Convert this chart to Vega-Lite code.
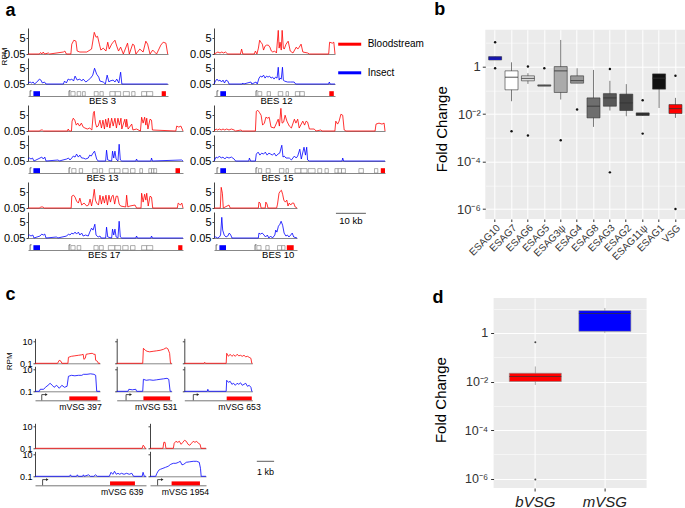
{
"$schema":"https://vega.github.io/schema/vega-lite/v6.json",
"padding":{"left":0,"top":0,"right":0,"bottom":0},
"background":"#ffffff",
"config":{"font":"Liberation Sans","view":{"stroke":null},"axis":{"labelFont":"Liberation Sans","titleFont":"Liberation Sans"},"legend":{"labelFont":"Liberation Sans"},"title":{"font":"Liberation Sans"}},
"datasets":{
"b3r":[{"x":0,"y":0.05},{"x":3.8,"y":0.05},{"x":4.2,"y":0.077},{"x":4.6,"y":0.05},{"x":5.1,"y":0.089},{"x":5.5,"y":0.05},{"x":6.8,"y":0.067},{"x":7.2,"y":0.05},{"x":11.8,"y":0.089},{"x":12.3,"y":0.119},{"x":12.8,"y":0.05},{"x":14.3,"y":0.05},{"x":14.6,"y":0.889},{"x":15.3,"y":2.81},{"x":16,"y":2.11},{"x":16.4,"y":0.119},{"x":17.3,"y":0.089},{"x":19.6,"y":0.089},{"x":21.2,"y":0.211},{"x":22.1,"y":28.1},{"x":22.7,"y":6.67},{"x":23.2,"y":8.89},{"x":23.8,"y":0.889},{"x":24.3,"y":0.158},{"x":25.1,"y":0.281},{"x":26,"y":0.119},{"x":26.6,"y":1.58},{"x":27.1,"y":0.211},{"x":27.9,"y":0.889},{"x":28.4,"y":1.58},{"x":29,"y":2.81},{"x":29.6,"y":0.5},{"x":30.2,"y":0.119},{"x":30.9,"y":0.375},{"x":31.8,"y":0.05},{"x":33.2,"y":1.19},{"x":33.8,"y":0.05},{"x":34.9,"y":0.889},{"x":35.4,"y":0.667},{"x":36,"y":0.05},{"x":37.3,"y":0.211},{"x":38.4,"y":0.089},{"x":39.3,"y":2.11},{"x":39.9,"y":0.889},{"x":40.7,"y":0.05},{"x":41.6,"y":0.158},{"x":42.9,"y":0.05},{"x":44.3,"y":0.667},{"x":45.1,"y":1.58},{"x":46,"y":1.19},{"x":46.6,"y":0.05}],
"b3b":[{"x":0,"y":0.067},{"x":0.7,"y":0.089},{"x":1.2,"y":0.067},{"x":1.7,"y":0.089},{"x":2.2,"y":0.05},{"x":3.3,"y":0.119},{"x":3.8,"y":0.211},{"x":4.3,"y":0.158},{"x":4.8,"y":0.067},{"x":5.5,"y":0.089},{"x":6,"y":0.05},{"x":11.8,"y":0.05},{"x":12.2,"y":0.119},{"x":12.8,"y":0.067},{"x":13.4,"y":0.211},{"x":14,"y":0.158},{"x":14.6,"y":0.211},{"x":15.2,"y":0.119},{"x":15.7,"y":0.5},{"x":16.4,"y":0.158},{"x":17.3,"y":0.211},{"x":17.9,"y":0.119},{"x":18.4,"y":0.211},{"x":19.3,"y":0.089},{"x":20.1,"y":0.158},{"x":20.9,"y":0.281},{"x":21.6,"y":0.667},{"x":22.2,"y":5},{"x":22.9,"y":0.889},{"x":23.6,"y":0.375},{"x":24,"y":0.119},{"x":25.1,"y":0.089},{"x":25.8,"y":0.05},{"x":26.4,"y":0.667},{"x":27,"y":0.089},{"x":27.3,"y":0.119},{"x":28.4,"y":0.158},{"x":29,"y":0.089},{"x":29.6,"y":0.211},{"x":30.3,"y":0.067},{"x":30.9,"y":1.58},{"x":31.3,"y":0.05},{"x":46.6,"y":0.05}],
"b12r":[{"x":0,"y":0.05},{"x":0.7,"y":0.067},{"x":1.3,"y":0.089},{"x":2,"y":0.067},{"x":2.6,"y":0.089},{"x":3.2,"y":0.067},{"x":3.8,"y":0.089},{"x":4.6,"y":0.05},{"x":8.8,"y":0.05},{"x":9.2,"y":0.211},{"x":9.6,"y":0.05},{"x":13.4,"y":0.05},{"x":13.8,"y":0.119},{"x":14.3,"y":0.05},{"x":14.8,"y":0.281},{"x":15.2,"y":2.81},{"x":15.6,"y":1.58},{"x":16.1,"y":0.889},{"x":16.5,"y":0.158},{"x":17,"y":0.5},{"x":17.5,"y":0.667},{"x":18.1,"y":0.667},{"x":18.6,"y":0.375},{"x":19.1,"y":0.119},{"x":19.6,"y":0.089},{"x":20.2,"y":0.119},{"x":20.8,"y":0.067},{"x":21.4,"y":50},{"x":21.7,"y":0.281},{"x":22,"y":1.58},{"x":22.4,"y":0.158},{"x":22.7,"y":50},{"x":23.1,"y":0.281},{"x":23.4,"y":0.211},{"x":24,"y":0.889},{"x":24.7,"y":2.11},{"x":25.4,"y":0.119},{"x":26.3,"y":0.067},{"x":27.4,"y":0.375},{"x":27.9,"y":0.211},{"x":28.4,"y":0.375},{"x":29,"y":0.889},{"x":29.6,"y":0.089},{"x":31.2,"y":0.067},{"x":31.8,"y":0.05},{"x":38.2,"y":0.05},{"x":38.5,"y":1.58},{"x":39.4,"y":1.19},{"x":39.9,"y":1.58},{"x":40.3,"y":0.05}],
"b12b":[{"x":0,"y":0.05},{"x":0.5,"y":0.119},{"x":1,"y":0.211},{"x":1.5,"y":0.119},{"x":2,"y":0.158},{"x":2.5,"y":0.089},{"x":3,"y":0.158},{"x":3.5,"y":0.067},{"x":4,"y":0.158},{"x":4.6,"y":0.119},{"x":5,"y":0.05},{"x":9.4,"y":0.05},{"x":9.6,"y":0.067},{"x":9.9,"y":0.05},{"x":12.3,"y":0.089},{"x":12.6,"y":0.05},{"x":14,"y":0.089},{"x":14.4,"y":0.05},{"x":15,"y":0.281},{"x":15.5,"y":0.5},{"x":16,"y":0.375},{"x":16.5,"y":0.667},{"x":17,"y":0.281},{"x":17.5,"y":0.5},{"x":18,"y":0.375},{"x":18.5,"y":0.5},{"x":19,"y":0.281},{"x":19.5,"y":0.375},{"x":20,"y":0.211},{"x":20.5,"y":0.375},{"x":21,"y":0.281},{"x":21.4,"y":6.67},{"x":21.7,"y":0.158},{"x":22,"y":0.281},{"x":22.4,"y":0.211},{"x":22.8,"y":6.67},{"x":23.1,"y":0.158},{"x":23.4,"y":0.119},{"x":24.5,"y":0.089},{"x":25.5,"y":0.089},{"x":26.7,"y":0.089},{"x":27.2,"y":0.05},{"x":38.2,"y":0.05},{"x":38.4,"y":0.089},{"x":38.7,"y":0.05},{"x":40.3,"y":0.05}],
"b13r":[{"x":0,"y":0.05},{"x":3.9,"y":0.05},{"x":4.2,"y":0.067},{"x":4.8,"y":0.067},{"x":5.2,"y":0.05},{"x":13.2,"y":0.05},{"x":13.4,"y":0.089},{"x":13.8,"y":0.05},{"x":14.5,"y":0.05},{"x":14.7,"y":0.889},{"x":15.1,"y":2.11},{"x":15.6,"y":1.19},{"x":16.1,"y":0.281},{"x":16.6,"y":0.5},{"x":17.2,"y":0.211},{"x":17.8,"y":0.5},{"x":18.4,"y":0.158},{"x":19,"y":0.119},{"x":19.8,"y":0.089},{"x":20.6,"y":0.119},{"x":21.3,"y":0.067},{"x":21.8,"y":8.89},{"x":22.1,"y":15.8},{"x":22.5,"y":0.5},{"x":22.9,"y":0.158},{"x":23.4,"y":0.211},{"x":24,"y":1.19},{"x":24.5,"y":0.119},{"x":25,"y":1.19},{"x":25.5,"y":0.089},{"x":25.9,"y":1.58},{"x":26.4,"y":0.158},{"x":26.8,"y":2.11},{"x":27.3,"y":0.119},{"x":27.9,"y":2.11},{"x":28.4,"y":0.211},{"x":29,"y":2.11},{"x":29.5,"y":0.119},{"x":30,"y":2.11},{"x":30.5,"y":0.281},{"x":31,"y":2.11},{"x":31.3,"y":0.089},{"x":32.3,"y":1.58},{"x":32.7,"y":0.158},{"x":32.9,"y":1.58},{"x":33.4,"y":0.089},{"x":34.6,"y":0.375},{"x":35,"y":0.067},{"x":36.2,"y":0.089},{"x":37.5,"y":0.05},{"x":37.9,"y":2.81},{"x":38.4,"y":0.5},{"x":38.9,"y":2.81},{"x":39.3,"y":0.281},{"x":39.6,"y":2.11},{"x":40,"y":0.089},{"x":40.7,"y":1.58},{"x":41.2,"y":1.19},{"x":41.5,"y":0.067},{"x":49.3,"y":0.05},{"x":49.6,"y":0.211},{"x":50.3,"y":0.158},{"x":51,"y":0.211},{"x":51.7,"y":0.05}],
"b13b":[{"x":0,"y":0.089},{"x":0.5,"y":0.119},{"x":1,"y":0.089},{"x":1.5,"y":0.119},{"x":2,"y":0.05},{"x":4,"y":0.119},{"x":4.6,"y":0.158},{"x":5.1,"y":0.089},{"x":5.6,"y":0.158},{"x":6,"y":0.05},{"x":10.1,"y":0.067},{"x":10.4,"y":0.05},{"x":12.9,"y":0.089},{"x":13.5,"y":0.119},{"x":14,"y":0.067},{"x":14.6,"y":0.119},{"x":15.1,"y":0.211},{"x":15.7,"y":0.158},{"x":16.2,"y":0.375},{"x":16.8,"y":0.158},{"x":17.3,"y":0.281},{"x":17.9,"y":0.119},{"x":18.4,"y":0.119},{"x":19.2,"y":0.089},{"x":20.1,"y":0.119},{"x":20.6,"y":0.281},{"x":21.1,"y":0.211},{"x":21.7,"y":0.5},{"x":22.2,"y":0.889},{"x":22.9,"y":0.089},{"x":23.4,"y":0.05},{"x":25.9,"y":0.05},{"x":26.2,"y":1.19},{"x":26.6,"y":0.067},{"x":27.9,"y":0.05},{"x":28.2,"y":0.889},{"x":28.6,"y":0.119},{"x":29,"y":0.889},{"x":29.4,"y":0.089},{"x":30,"y":0.05},{"x":30.4,"y":6.67},{"x":30.8,"y":0.067},{"x":31.3,"y":0.05},{"x":36,"y":0.05},{"x":36.2,"y":0.089},{"x":36.5,"y":0.05},{"x":41,"y":0.05},{"x":41.2,"y":0.119},{"x":41.5,"y":0.05},{"x":51.2,"y":0.067},{"x":51.7,"y":0.05}],
"b15r":[{"x":0,"y":0.05},{"x":0.7,"y":0.089},{"x":1.2,"y":0.067},{"x":1.8,"y":0.089},{"x":2.4,"y":0.067},{"x":3,"y":0.089},{"x":3.6,"y":0.067},{"x":4.2,"y":0.089},{"x":5,"y":0.067},{"x":5.8,"y":0.089},{"x":6.7,"y":0.067},{"x":7.2,"y":0.05},{"x":9,"y":0.067},{"x":9.4,"y":0.05},{"x":13.8,"y":0.05},{"x":14.1,"y":15.8},{"x":14.6,"y":21.1},{"x":15.1,"y":11.9},{"x":15.7,"y":5},{"x":16.2,"y":0.281},{"x":16.8,"y":0.5},{"x":17.3,"y":2.81},{"x":17.9,"y":2.11},{"x":18.4,"y":2.81},{"x":19,"y":0.158},{"x":20.1,"y":0.119},{"x":21.4,"y":1.58},{"x":21.8,"y":0.211},{"x":22.3,"y":37.5},{"x":22.7,"y":0.5},{"x":23.2,"y":0.667},{"x":23.7,"y":5},{"x":24.3,"y":0.889},{"x":25.1,"y":0.211},{"x":25.8,"y":0.119},{"x":26.8,"y":1.58},{"x":27.3,"y":0.5},{"x":27.9,"y":1.58},{"x":28.4,"y":0.119},{"x":29.6,"y":0.889},{"x":30.2,"y":0.281},{"x":30.7,"y":0.889},{"x":31.2,"y":0.667},{"x":31.8,"y":0.089},{"x":33.4,"y":0.089},{"x":34,"y":0.05},{"x":35.6,"y":0.067},{"x":36,"y":0.05},{"x":40.3,"y":0.05},{"x":40.6,"y":0.889},{"x":41.2,"y":0.375},{"x":41.7,"y":0.889},{"x":42.3,"y":6.67},{"x":42.9,"y":5},{"x":43.4,"y":0.067},{"x":44,"y":0.05},{"x":53.7,"y":0.05},{"x":54,"y":0.375},{"x":55,"y":0.5},{"x":56,"y":0.375},{"x":56.7,"y":0.5},{"x":57,"y":0.05}],
"b15b":[{"x":0,"y":0.05},{"x":0.7,"y":0.158},{"x":1.2,"y":0.119},{"x":1.8,"y":0.211},{"x":2.4,"y":0.119},{"x":3,"y":0.158},{"x":3.6,"y":0.089},{"x":4.2,"y":0.158},{"x":5,"y":0.119},{"x":5.8,"y":0.158},{"x":6.7,"y":0.089},{"x":7.2,"y":0.05},{"x":11.6,"y":0.05},{"x":11.8,"y":0.119},{"x":12.2,"y":0.05},{"x":13.8,"y":0.05},{"x":14.1,"y":0.375},{"x":14.7,"y":0.667},{"x":15.3,"y":0.281},{"x":15.9,"y":0.5},{"x":16.5,"y":0.375},{"x":17.1,"y":0.667},{"x":17.7,"y":0.281},{"x":18.3,"y":0.5},{"x":18.9,"y":0.375},{"x":19.5,"y":0.281},{"x":20.1,"y":0.5},{"x":20.7,"y":0.211},{"x":21.3,"y":0.375},{"x":21.9,"y":0.5},{"x":22.6,"y":5},{"x":23,"y":0.158},{"x":23.4,"y":0.211},{"x":24,"y":0.119},{"x":25.1,"y":0.119},{"x":25.8,"y":0.067},{"x":26.8,"y":0.211},{"x":27.4,"y":0.119},{"x":27.9,"y":0.211},{"x":28.6,"y":1.58},{"x":29.1,"y":0.089},{"x":30,"y":2.81},{"x":30.5,"y":0.281},{"x":30.9,"y":2.81},{"x":31.2,"y":0.067},{"x":31.8,"y":0.05},{"x":42.7,"y":0.05},{"x":42.9,"y":0.119},{"x":43.2,"y":0.05},{"x":57,"y":0.05}],
"b17r":[{"x":0,"y":0.05},{"x":3.9,"y":0.05},{"x":4.2,"y":0.067},{"x":5,"y":0.067},{"x":5.4,"y":0.05},{"x":14.4,"y":0.05},{"x":14.6,"y":1.58},{"x":15.2,"y":2.11},{"x":15.7,"y":1.19},{"x":16.2,"y":0.375},{"x":16.8,"y":0.211},{"x":17.3,"y":0.889},{"x":17.9,"y":0.119},{"x":18.7,"y":0.211},{"x":19.6,"y":0.089},{"x":20.2,"y":0.119},{"x":20.7,"y":0.667},{"x":21.2,"y":0.089},{"x":21.7,"y":0.889},{"x":22.1,"y":11.9},{"x":22.5,"y":0.5},{"x":22.9,"y":0.211},{"x":23.5,"y":0.119},{"x":24,"y":2.11},{"x":24.5,"y":0.158},{"x":25,"y":1.58},{"x":25.5,"y":0.211},{"x":26,"y":2.11},{"x":26.5,"y":0.119},{"x":27,"y":2.11},{"x":27.5,"y":0.281},{"x":28,"y":1.58},{"x":28.4,"y":2.11},{"x":28.9,"y":0.158},{"x":29.4,"y":1.58},{"x":29.9,"y":1.58},{"x":30.4,"y":0.158},{"x":30.9,"y":0.089},{"x":32.6,"y":0.067},{"x":32.9,"y":2.11},{"x":33.3,"y":0.067},{"x":34,"y":0.089},{"x":35.7,"y":0.119},{"x":36.2,"y":0.05},{"x":37.7,"y":0.05},{"x":37.9,"y":3.75},{"x":38.4,"y":0.281},{"x":38.9,"y":2.81},{"x":39.3,"y":0.5},{"x":39.6,"y":3.75},{"x":40.1,"y":0.089},{"x":40.7,"y":1.58},{"x":41.2,"y":1.19},{"x":41.6,"y":0.05},{"x":49.8,"y":0.05},{"x":50.1,"y":0.211},{"x":50.8,"y":0.119},{"x":51.3,"y":0.211},{"x":51.7,"y":0.05}],
"b17b":[{"x":0,"y":0.089},{"x":0.5,"y":0.119},{"x":1,"y":0.089},{"x":1.6,"y":0.119},{"x":2,"y":0.05},{"x":4,"y":0.089},{"x":4.6,"y":0.158},{"x":5.1,"y":0.119},{"x":5.6,"y":0.158},{"x":6,"y":0.05},{"x":9.6,"y":0.067},{"x":9.9,"y":0.05},{"x":12.9,"y":0.089},{"x":13.5,"y":0.158},{"x":14,"y":0.119},{"x":14.6,"y":0.211},{"x":15.1,"y":0.158},{"x":15.7,"y":0.281},{"x":16.2,"y":0.158},{"x":16.8,"y":0.281},{"x":17.3,"y":0.119},{"x":17.9,"y":0.211},{"x":18.4,"y":0.089},{"x":19.2,"y":0.119},{"x":20.1,"y":0.089},{"x":20.6,"y":0.281},{"x":21.2,"y":0.889},{"x":21.7,"y":0.5},{"x":22.3,"y":2.81},{"x":22.7,"y":0.119},{"x":23.4,"y":0.067},{"x":24,"y":0.089},{"x":24.4,"y":0.05},{"x":25.9,"y":0.05},{"x":26.2,"y":1.19},{"x":26.6,"y":0.067},{"x":27.9,"y":0.05},{"x":28.2,"y":0.667},{"x":28.6,"y":0.119},{"x":29,"y":0.667},{"x":29.4,"y":0.067},{"x":30,"y":0.05},{"x":30.4,"y":6.67},{"x":30.8,"y":0.067},{"x":31.3,"y":0.05},{"x":36,"y":0.05},{"x":36.2,"y":0.089},{"x":36.5,"y":0.05},{"x":41,"y":0.05},{"x":41.2,"y":0.089},{"x":41.5,"y":0.05},{"x":51.7,"y":0.05}],
"b10r":[{"x":0,"y":0.05},{"x":2.1,"y":0.05},{"x":2.4,"y":21.1},{"x":2.8,"y":3.75},{"x":3.1,"y":0.05},{"x":5,"y":0.119},{"x":5.4,"y":0.05},{"x":14.8,"y":0.05},{"x":15,"y":0.281},{"x":15.4,"y":0.211},{"x":15.7,"y":0.05},{"x":17.1,"y":0.05},{"x":17.3,"y":0.281},{"x":17.7,"y":0.158},{"x":18,"y":0.05},{"x":20.9,"y":0.05},{"x":21.2,"y":0.158},{"x":21.7,"y":3.75},{"x":22.1,"y":6.67},{"x":22.5,"y":8.89},{"x":22.9,"y":2.81},{"x":23.3,"y":0.5},{"x":23.8,"y":0.281},{"x":24.3,"y":0.5},{"x":24.7,"y":0.089},{"x":25.1,"y":0.211},{"x":25.6,"y":0.119},{"x":26.1,"y":0.211},{"x":26.6,"y":0.211},{"x":27.1,"y":0.067},{"x":27.7,"y":0.05}],
"b10b":[{"x":0,"y":0.067},{"x":0.6,"y":0.067},{"x":1.2,"y":0.05},{"x":1.8,"y":0.067},{"x":2.2,"y":0.119},{"x":2.6,"y":21.1},{"x":2.9,"y":0.5},{"x":3.4,"y":0.119},{"x":4,"y":0.067},{"x":4.6,"y":0.089},{"x":5.1,"y":0.211},{"x":5.6,"y":0.119},{"x":6,"y":0.05},{"x":14.8,"y":0.05},{"x":15,"y":0.211},{"x":15.5,"y":0.158},{"x":16.1,"y":0.211},{"x":16.7,"y":0.119},{"x":17.2,"y":0.067},{"x":17.8,"y":0.119},{"x":18.3,"y":0.05},{"x":18.9,"y":0.089},{"x":19.5,"y":0.05},{"x":20.3,"y":0.119},{"x":20.6,"y":0.5},{"x":21,"y":0.281},{"x":21.5,"y":1.58},{"x":22,"y":2.81},{"x":22.4,"y":6.67},{"x":22.9,"y":2.11},{"x":23.4,"y":0.211},{"x":24,"y":0.089},{"x":24.5,"y":0.119},{"x":25,"y":0.067},{"x":25.6,"y":0.119},{"x":26.1,"y":0.211},{"x":26.6,"y":0.067},{"x":27.7,"y":0.05}],
"c1r":[{"x":0,"y":0.1},{"x":1.3,"y":0.1},{"x":1.4,"y":0.189},{"x":1.5,"y":0.153},{"x":1.55,"y":0.1},{"x":1.9,"y":0.1},{"x":1.93,"y":0.356},{"x":2.1,"y":0.44},{"x":2.3,"y":0.49},{"x":2.5,"y":0.544},{"x":2.7,"y":0.606},{"x":2.78,"y":0.673},{"x":2.82,"y":0.233},{"x":2.9,"y":0.288},{"x":2.95,"y":0.673},{"x":3.1,"y":0.75},{"x":3.3,"y":0.832},{"x":3.4,"y":0.673},{"x":3.47,"y":0.673},{"x":3.5,"y":0.189},{"x":3.6,"y":0.153},{"x":3.66,"y":0.1},{"x":3.75,"y":0.1}],
"c1b":[{"x":0,"y":0.1},{"x":0.25,"y":0.1},{"x":0.3,"y":0.153},{"x":0.5,"y":0.153},{"x":0.6,"y":0.233},{"x":0.75,"y":0.356},{"x":0.87,"y":0.544},{"x":1,"y":0.356},{"x":1.1,"y":0.233},{"x":1.25,"y":0.356},{"x":1.4,"y":0.189},{"x":1.55,"y":0.356},{"x":1.7,"y":0.233},{"x":1.85,"y":0.288},{"x":1.93,"y":2.4},{"x":2.1,"y":2.96},{"x":2.3,"y":2.67},{"x":2.5,"y":2.96},{"x":2.7,"y":2.96},{"x":2.8,"y":3.66},{"x":3,"y":3.66},{"x":3.2,"y":4.07},{"x":3.4,"y":3.66},{"x":3.5,"y":2.96},{"x":3.56,"y":0.1},{"x":3.75,"y":0.1}],
"c2r":[{"x":0,"y":0.1},{"x":1.5,"y":0.1},{"x":1.54,"y":2.4},{"x":1.65,"y":1.57},{"x":1.75,"y":1.27},{"x":1.9,"y":1.14},{"x":2.1,"y":1.27},{"x":2.3,"y":1.41},{"x":2.5,"y":1.57},{"x":2.7,"y":1.94},{"x":2.85,"y":2.67},{"x":2.95,"y":2.16},{"x":3.05,"y":0.832},{"x":3.1,"y":0.1},{"x":3.17,"y":0.1}],
"c2b":[{"x":0,"y":0.1},{"x":0.65,"y":0.1},{"x":0.7,"y":0.153},{"x":0.9,"y":0.137},{"x":1.1,"y":0.153},{"x":1.15,"y":0.1},{"x":1.5,"y":0.1},{"x":1.54,"y":1.27},{"x":1.7,"y":1.03},{"x":1.9,"y":1.14},{"x":2.1,"y":1.03},{"x":2.3,"y":1.14},{"x":2.5,"y":1.27},{"x":2.7,"y":1.41},{"x":2.9,"y":1.57},{"x":3,"y":1.27},{"x":3.08,"y":0.1},{"x":3.17,"y":0.1}],
"c3r":[{"x":0,"y":0.1},{"x":1.15,"y":0.1},{"x":1.18,"y":0.124},{"x":1.22,"y":0.1},{"x":2.42,"y":0.1},{"x":2.45,"y":0.832},{"x":2.55,"y":0.44},{"x":2.65,"y":0.673},{"x":2.75,"y":0.44},{"x":2.85,"y":0.606},{"x":2.95,"y":0.44},{"x":3.05,"y":0.673},{"x":3.15,"y":0.49},{"x":3.25,"y":0.544},{"x":3.35,"y":0.44},{"x":3.45,"y":0.544},{"x":3.55,"y":0.396},{"x":3.65,"y":0.44},{"x":3.75,"y":0.356},{"x":3.85,"y":0.288},{"x":3.9,"y":0.1},{"x":3.93,"y":0.1}],
"c3b":[{"x":0,"y":0.1},{"x":1.33,"y":0.1},{"x":1.36,"y":0.153},{"x":1.4,"y":0.1},{"x":2.42,"y":0.1},{"x":2.45,"y":1.03},{"x":2.55,"y":0.673},{"x":2.65,"y":0.832},{"x":2.75,"y":0.44},{"x":2.85,"y":0.544},{"x":2.95,"y":0.356},{"x":3.05,"y":0.544},{"x":3.15,"y":0.44},{"x":3.25,"y":0.606},{"x":3.35,"y":0.356},{"x":3.45,"y":0.44},{"x":3.55,"y":0.544},{"x":3.65,"y":0.288},{"x":3.75,"y":0.356},{"x":3.85,"y":0.233},{"x":3.9,"y":0.1},{"x":3.93,"y":0.1}],
"c4r":[{"x":0,"y":0.1},{"x":6.2,"y":0.1},{"x":6.25,"y":0.189},{"x":6.32,"y":0.153},{"x":6.36,"y":0.1},{"x":6.42,"y":0.1}],
"c4b":[{"x":0,"y":0.1},{"x":2,"y":0.1},{"x":2.05,"y":0.137},{"x":2.1,"y":0.1},{"x":2.4,"y":0.1},{"x":2.45,"y":0.137},{"x":2.5,"y":0.1},{"x":2.75,"y":0.1},{"x":2.8,"y":0.137},{"x":2.85,"y":0.1},{"x":3.1,"y":0.137},{"x":3.2,"y":0.1},{"x":3.4,"y":0.1},{"x":3.5,"y":0.137},{"x":3.6,"y":0.1},{"x":4.3,"y":0.1},{"x":4.4,"y":0.233},{"x":4.5,"y":0.153},{"x":4.6,"y":0.288},{"x":4.7,"y":0.153},{"x":4.8,"y":0.189},{"x":4.9,"y":0.153},{"x":5,"y":0.189},{"x":5.15,"y":0.153},{"x":5.3,"y":0.189},{"x":5.45,"y":0.153},{"x":5.6,"y":0.189},{"x":5.7,"y":0.1},{"x":6.2,"y":0.1},{"x":6.25,"y":0.233},{"x":6.32,"y":0.1},{"x":6.42,"y":0.1}],
"c5r":[{"x":0,"y":0.1},{"x":0.75,"y":0.1},{"x":0.8,"y":0.356},{"x":0.87,"y":0.356},{"x":0.92,"y":0.1},{"x":1.35,"y":0.1},{"x":1.4,"y":0.288},{"x":1.5,"y":0.44},{"x":1.6,"y":0.356},{"x":1.7,"y":0.44},{"x":1.8,"y":0.233},{"x":1.9,"y":0.356},{"x":2,"y":0.544},{"x":2.1,"y":0.44},{"x":2.2,"y":0.233},{"x":2.3,"y":0.189},{"x":2.4,"y":0.288},{"x":2.5,"y":0.44},{"x":2.6,"y":0.356},{"x":2.7,"y":0.44},{"x":2.8,"y":0.288},{"x":2.9,"y":0.233},{"x":2.95,"y":0.1},{"x":3.24,"y":0.1}],
"c5b":[{"x":0,"y":0.1},{"x":0.33,"y":0.1},{"x":0.4,"y":0.189},{"x":0.5,"y":0.356},{"x":0.6,"y":0.44},{"x":0.75,"y":0.544},{"x":0.9,"y":0.673},{"x":1.05,"y":0.832},{"x":1.2,"y":1.27},{"x":1.35,"y":1.57},{"x":1.5,"y":1.57},{"x":1.65,"y":1.94},{"x":1.75,"y":2.4},{"x":1.85,"y":1.14},{"x":1.95,"y":1.27},{"x":2.1,"y":1.94},{"x":2.3,"y":2.16},{"x":2.5,"y":2.4},{"x":2.7,"y":2.4},{"x":2.85,"y":1.94},{"x":2.92,"y":0.544},{"x":2.96,"y":0.1},{"x":3.24,"y":0.1}],
"box":[{"gene":"ESAG10","lo":1.9,"q1":1.9,"med":2.3,"q3":2.63,"hi":2.63},{"gene":"ESAG7","lo":0.0347,"q1":0.105,"med":0.355,"q3":0.66,"hi":1.51},{"gene":"ESAG6","lo":0.186,"q1":0.251,"med":0.316,"q3":0.407,"hi":0.525},{"gene":"ESAG5","lo":0.151,"q1":0.151,"med":0.158,"q3":0.17,"hi":0.17},{"gene":"ESAG3ψ","lo":0.041,"q1":0.081,"med":0.66,"q3":1.0,"hi":13.2},{"gene":"ESAG4","lo":0.2,"q1":0.2,"med":0.257,"q3":0.407,"hi":0.85},{"gene":"ESAG8","lo":0.00288,"q1":0.0069,"med":0.0214,"q3":0.0479,"hi":0.72},{"gene":"ESAG3","lo":0.0141,"q1":0.0214,"med":0.0479,"q3":0.0724,"hi":0.251},{"gene":"ESAG2","lo":0.0081,"q1":0.0141,"med":0.0295,"q3":0.069,"hi":0.182},{"gene":"ESAG11ψ","lo":0.0087,"q1":0.0087,"med":0.01,"q3":0.0112,"hi":0.0112},{"gene":"ESAG1","lo":0.018,"q1":0.112,"med":0.324,"q3":0.49,"hi":0.49},{"gene":"VSG","lo":0.0069,"q1":0.0105,"med":0.017,"q3":0.0251,"hi":0.0479}],
"outl":[{"gene":"ESAG10","v":10.5},{"gene":"ESAG10","v":0.85},{"gene":"ESAG7","v":0.0019},{"gene":"ESAG6","v":1.0},{"gene":"ESAG6","v":0.00126},{"gene":"ESAG5","v":0.85},{"gene":"ESAG3ψ","v":0.00079},{"gene":"ESAG4","v":0.0155},{"gene":"ESAG3","v":0.79},{"gene":"ESAG3","v":0.000035},{"gene":"ESAG11ψ","v":0.038},{"gene":"ESAG11ψ","v":0.0015},{"gene":"VSG","v":0.407},{"gene":"VSG","v":0.000001}],
"boxd":[{"g":"bVSG","lo":0.0072,"q1":0.01,"med":0.0162,"q3":0.0219,"hi":0.0417},{"g":"mVSG","lo":1.0,"q1":1.17,"med":6.3,"q3":8.3,"hi":10.7}],
"outd":[{"g":"bVSG","v":0.41},{"g":"bVSG","v":0.00000091}]
},
"spacing":23,
"resolve":{"scale":{"fill":"independent"}},
"vconcat":[
{"spacing":46.3,"hconcat":[
 {"spacing":4,"hconcat":[
  {"spacing":-2,"vconcat":[
   {"bounds":"flush","spacing":4,"vconcat":[
    {"width":140,"height":26,
     "data":{"name":"b3r"},"mark":{"type":"line","strokeWidth":0.8},
     "encoding":{"x":{"field":"x","type":"quantitative","scale":{"domain":[0,46.7],"nice":false,"zero":false},"axis":{"domainColor":"#888888","ticks":false,"labels":false,"grid":false,"title":"a","titleX":-23,"titleY":-39,"titleAngle":0,"titleAlign":"left","titleBaseline":"alphabetic","titleFontSize":18,"titleFontWeight":"bold","titleColor":"#000000"}},
      "y":{"field":"y","type":"quantitative","scale":{"type":"log","domain":[0.05,100],"nice":false},"axis":{"values":[0.05,5],"labelExpr":"datum.value < 1 ? '0.05' : '5'","grid":false,"tickSize":2,"tickColor":"#444444","domainColor":"#444444","labelFontSize":11,"labelPadding":1,"labelColor":"#000000","title":"RPM","titleFontSize":8,"titleFontWeight":"normal","titleColor":"#000000","titleX":-20,"titleY":28}},
      "color":{"datum":"Bloodstream","type":"nominal","scale":{"domain":["Bloodstream","Insect"],"range":["#ff0000","#0000ff"]}}}},
    {"width":140,"height":26,"data":{"name":"b3b"},"mark":{"type":"line","strokeWidth":0.8},
     "encoding":{"x":{"field":"x","type":"quantitative","scale":{"domain":[0,46.7],"nice":false,"zero":false},"axis":{"domainColor":"#888888","ticks":false,"labels":false,"grid":false,"title":null}},
      "y":{"field":"y","type":"quantitative","scale":{"type":"log","domain":[0.05,100],"nice":false},"axis":{"values":[0.05,5],"labelExpr":"datum.value < 1 ? '0.05' : '5'","grid":false,"title":null,"tickSize":2,"tickColor":"#444444","domainColor":"#444444","labelFontSize":11,"labelPadding":1,"labelColor":"#000000"}},
      "color":{"datum":"Insect","type":"nominal","scale":{"domain":["Bloodstream","Insect"],"range":["#ff0000","#0000ff"]}}}},
    {"width":140,"height":8,"data":{"values":[{"t":"p","s":0.7,"e":1.2},{"t":"b","s":1.8,"e":4.0},{"t":"p","s":13.7,"e":14.2},{"t":"e","s":14.3,"e":15.7},{"t":"e","s":16.4,"e":17.6},{"t":"e","s":18.2,"e":19.1},{"t":"e","s":22.1,"e":23.4},{"t":"e","s":24,"e":25.1},{"t":"e","s":27.3,"e":29.1},{"t":"e","s":29.1,"e":30.9},{"t":"e","s":31.8,"e":33.8},{"t":"e","s":34.6,"e":35.7},{"t":"e","s":37.9,"e":39.6},{"t":"e","s":39.6,"e":41.6},{"t":"r","s":44.6,"e":46}]},
     "encoding":{"x":{"field":"s","type":"quantitative","scale":{"domain":[0,46.7],"nice":false,"zero":false},"axis":{"domainColor":"#888888","ticks":false,"labels":false,"grid":false,"title":"BES 3","titleX":74,"titleY":4,"titleFontSize":9.5,"titleFontWeight":"normal","titleColor":"#000000","titleBaseline":"middle"}}},
     "layer":[
      {"transform":[{"filter":"datum.t=='e'"}],"mark":{"type":"rect","fill":"#ffffff","stroke":"#777777","strokeWidth":0.6},"encoding":{"x2":{"field":"e"},"y":{"datum":0,"type":"quantitative","scale":{"domain":[0,1]},"axis":null},"y2":{"datum":0.55}}},
      {"transform":[{"filter":"datum.t=='b'"}],"mark":{"type":"rect","fill":"#0000ff"},"encoding":{"x2":{"field":"e"},"y":{"datum":0,"type":"quantitative"},"y2":{"datum":0.6}}},
      {"transform":[{"filter":"datum.t=='r'"}],"mark":{"type":"rect","fill":"#ff0000"},"encoding":{"x2":{"field":"e"},"y":{"datum":0,"type":"quantitative"},"y2":{"datum":0.6}}},
      {"transform":[{"filter":"datum.t=='p'"}],"mark":{"type":"rule","color":"#333333","strokeWidth":0.7},"encoding":{"y":{"datum":0,"type":"quantitative"},"y2":{"datum":0.65}}},
      {"transform":[{"filter":"datum.t=='p'"}],"mark":{"type":"rule","color":"#333333","strokeWidth":0.7},"encoding":{"x2":{"field":"e"},"y":{"datum":0.65,"type":"quantitative"}}}
     ]}
   ]},
   {"bounds":"flush","spacing":4,"vconcat":[
    {"width":155,"height":26,"data":{"name":"b13r"},"mark":{"type":"line","strokeWidth":0.8},
     "encoding":{"x":{"field":"x","type":"quantitative","scale":{"domain":[0,51.7],"nice":false,"zero":false},"axis":{"domainColor":"#888888","ticks":false,"labels":false,"grid":false,"title":null}},
      "y":{"field":"y","type":"quantitative","scale":{"type":"log","domain":[0.05,100],"nice":false},"axis":{"values":[0.05,5],"labelExpr":"datum.value < 1 ? '0.05' : '5'","grid":false,"title":null,"tickSize":2,"tickColor":"#444444","domainColor":"#444444","labelFontSize":11,"labelPadding":1,"labelColor":"#000000"}},
      "color":{"datum":"Bloodstream","type":"nominal","scale":{"domain":["Bloodstream","Insect"],"range":["#ff0000","#0000ff"]}}}},
    {"width":155,"height":26,"data":{"name":"b13b"},"mark":{"type":"line","strokeWidth":0.8},
     "encoding":{"x":{"field":"x","type":"quantitative","scale":{"domain":[0,51.7],"nice":false,"zero":false},"axis":{"domainColor":"#888888","ticks":false,"labels":false,"grid":false,"title":null}},
      "y":{"field":"y","type":"quantitative","scale":{"type":"log","domain":[0.05,100],"nice":false},"axis":{"values":[0.05,5],"labelExpr":"datum.value < 1 ? '0.05' : '5'","grid":false,"title":null,"tickSize":2,"tickColor":"#444444","domainColor":"#444444","labelFontSize":11,"labelPadding":1,"labelColor":"#000000"}},
      "color":{"datum":"Insect","type":"nominal","scale":{"domain":["Bloodstream","Insect"],"range":["#ff0000","#0000ff"]}}}},
    {"width":155,"height":8,"data":{"values":[{"t":"p","s":0.7,"e":1.2},{"t":"b","s":1.8,"e":4.0},{"t":"p","s":13.7,"e":14.2},{"t":"e","s":14.6,"e":16.0},{"t":"e","s":17.1,"e":18.2},{"t":"e","s":21.6,"e":23.1},{"t":"e","s":23.8,"e":24.9},{"t":"e","s":27.1,"e":28.9},{"t":"e","s":28.9,"e":30.7},{"t":"e","s":31.6,"e":33.4},{"t":"e","s":34.2,"e":35.7},{"t":"e","s":37.3,"e":38.2},{"t":"e","s":40.3,"e":41.2},{"t":"e","s":41.2,"e":42.0},{"t":"e","s":42.0,"e":42.9},{"t":"r","s":49.2,"e":50.7}]},
     "encoding":{"x":{"field":"s","type":"quantitative","scale":{"domain":[0,51.7],"nice":false,"zero":false},"axis":{"domainColor":"#888888","ticks":false,"labels":false,"grid":false,"title":"BES 13","titleX":74,"titleY":4,"titleFontSize":9.5,"titleFontWeight":"normal","titleColor":"#000000","titleBaseline":"middle"}}},
     "layer":[
      {"transform":[{"filter":"datum.t=='e'"}],"mark":{"type":"rect","fill":"#ffffff","stroke":"#777777","strokeWidth":0.6},"encoding":{"x2":{"field":"e"},"y":{"datum":0,"type":"quantitative","scale":{"domain":[0,1]},"axis":null},"y2":{"datum":0.55}}},
      {"transform":[{"filter":"datum.t=='b'"}],"mark":{"type":"rect","fill":"#0000ff"},"encoding":{"x2":{"field":"e"},"y":{"datum":0,"type":"quantitative"},"y2":{"datum":0.6}}},
      {"transform":[{"filter":"datum.t=='r'"}],"mark":{"type":"rect","fill":"#ff0000"},"encoding":{"x2":{"field":"e"},"y":{"datum":0,"type":"quantitative"},"y2":{"datum":0.6}}},
      {"transform":[{"filter":"datum.t=='p'"}],"mark":{"type":"rule","color":"#333333","strokeWidth":0.7},"encoding":{"y":{"datum":0,"type":"quantitative"},"y2":{"datum":0.65}}},
      {"transform":[{"filter":"datum.t=='p'"}],"mark":{"type":"rule","color":"#333333","strokeWidth":0.7},"encoding":{"x2":{"field":"e"},"y":{"datum":0.65,"type":"quantitative"}}}
     ]}
   ]},
   {"bounds":"flush","spacing":4,"vconcat":[
    {"width":155,"height":26,"data":{"name":"b17r"},"mark":{"type":"line","strokeWidth":0.8},
     "encoding":{"x":{"field":"x","type":"quantitative","scale":{"domain":[0,51.7],"nice":false,"zero":false},"axis":{"domainColor":"#888888","ticks":false,"labels":false,"grid":false,"title":null}},
      "y":{"field":"y","type":"quantitative","scale":{"type":"log","domain":[0.05,100],"nice":false},"axis":{"values":[0.05,5],"labelExpr":"datum.value < 1 ? '0.05' : '5'","grid":false,"title":null,"tickSize":2,"tickColor":"#444444","domainColor":"#444444","labelFontSize":11,"labelPadding":1,"labelColor":"#000000"}},
      "color":{"datum":"Bloodstream","type":"nominal","scale":{"domain":["Bloodstream","Insect"],"range":["#ff0000","#0000ff"]}}}},
    {"width":155,"height":26,"data":{"name":"b17b"},"mark":{"type":"line","strokeWidth":0.8},
     "encoding":{"x":{"field":"x","type":"quantitative","scale":{"domain":[0,51.7],"nice":false,"zero":false},"axis":{"domainColor":"#888888","ticks":false,"labels":false,"grid":false,"title":null}},
      "y":{"field":"y","type":"quantitative","scale":{"type":"log","domain":[0.05,100],"nice":false},"axis":{"values":[0.05,5],"labelExpr":"datum.value < 1 ? '0.05' : '5'","grid":false,"title":null,"tickSize":2,"tickColor":"#444444","domainColor":"#444444","labelFontSize":11,"labelPadding":1,"labelColor":"#000000"}},
      "color":{"datum":"Insect","type":"nominal","scale":{"domain":["Bloodstream","Insect"],"range":["#ff0000","#0000ff"]}}}},
    {"width":155,"height":8,"data":{"values":[{"t":"p","s":0.7,"e":1.2},{"t":"b","s":1.8,"e":4.0},{"t":"p","s":13.7,"e":14.2},{"t":"e","s":14.3,"e":15.7},{"t":"e","s":16.4,"e":17.6},{"t":"e","s":22,"e":23.4},{"t":"e","s":23.8,"e":25.1},{"t":"e","s":26.8,"e":29},{"t":"e","s":29,"e":30.9},{"t":"e","s":31.6,"e":33.4},{"t":"e","s":34.2,"e":35.7},{"t":"e","s":37.9,"e":39.6},{"t":"e","s":39.6,"e":41.6},{"t":"r","s":50.1,"e":51.5}]},
     "encoding":{"x":{"field":"s","type":"quantitative","scale":{"domain":[0,51.7],"nice":false,"zero":false},"axis":{"domainColor":"#888888","ticks":false,"labels":false,"grid":false,"title":"BES 17","titleX":75.7,"titleY":4,"titleFontSize":9.5,"titleFontWeight":"normal","titleColor":"#000000","titleBaseline":"middle"}}},
     "layer":[
      {"transform":[{"filter":"datum.t=='e'"}],"mark":{"type":"rect","fill":"#ffffff","stroke":"#777777","strokeWidth":0.6},"encoding":{"x2":{"field":"e"},"y":{"datum":0,"type":"quantitative","scale":{"domain":[0,1]},"axis":null},"y2":{"datum":0.55}}},
      {"transform":[{"filter":"datum.t=='b'"}],"mark":{"type":"rect","fill":"#0000ff"},"encoding":{"x2":{"field":"e"},"y":{"datum":0,"type":"quantitative"},"y2":{"datum":0.6}}},
      {"transform":[{"filter":"datum.t=='r'"}],"mark":{"type":"rect","fill":"#ff0000"},"encoding":{"x2":{"field":"e"},"y":{"datum":0,"type":"quantitative"},"y2":{"datum":0.6}}},
      {"transform":[{"filter":"datum.t=='p'"}],"mark":{"type":"rule","color":"#333333","strokeWidth":0.7},"encoding":{"y":{"datum":0,"type":"quantitative"},"y2":{"datum":0.65}}},
      {"transform":[{"filter":"datum.t=='p'"}],"mark":{"type":"rule","color":"#333333","strokeWidth":0.7},"encoding":{"x2":{"field":"e"},"y":{"datum":0.65,"type":"quantitative"}}}
     ]}
   ]}
  ]},
  {"spacing":-2,"vconcat":[
   {"bounds":"flush","spacing":4,"vconcat":[
    {"width":121,"height":26,"data":{"name":"b12r"},"mark":{"type":"line","strokeWidth":0.8},
     "encoding":{"x":{"field":"x","type":"quantitative","scale":{"domain":[0,40.3],"nice":false,"zero":false},"axis":{"domainColor":"#888888","ticks":false,"labels":false,"grid":false,"title":null}},
      "y":{"field":"y","type":"quantitative","scale":{"type":"log","domain":[0.05,100],"nice":false},"axis":{"values":[0.05,5],"labelExpr":"datum.value < 1 ? '0.05' : '5'","grid":false,"title":null,"tickSize":2,"tickColor":"#444444","domainColor":"#444444","labelFontSize":11,"labelPadding":1,"labelColor":"#000000"}},
      "color":{"datum":"Bloodstream","type":"nominal","scale":{"domain":["Bloodstream","Insect"],"range":["#ff0000","#0000ff"]},"legend":{"orient":"none","legendX":308.7,"legendY":3.2,"title":null,"symbolType":"stroke","symbolSize":529,"symbolStrokeWidth":3,"labelFontSize":10,"labelColor":"#000000","rowPadding":9.6,"labelOffset":5,"padding":0}}}},
    {"width":121,"height":26,"data":{"name":"b12b"},"mark":{"type":"line","strokeWidth":0.8},
     "encoding":{"x":{"field":"x","type":"quantitative","scale":{"domain":[0,40.3],"nice":false,"zero":false},"axis":{"domainColor":"#888888","ticks":false,"labels":false,"grid":false,"title":null}},
      "y":{"field":"y","type":"quantitative","scale":{"type":"log","domain":[0.05,100],"nice":false},"axis":{"values":[0.05,5],"labelExpr":"datum.value < 1 ? '0.05' : '5'","grid":false,"title":null,"tickSize":2,"tickColor":"#444444","domainColor":"#444444","labelFontSize":11,"labelPadding":1,"labelColor":"#000000"}},
      "color":{"datum":"Insect","type":"nominal","scale":{"domain":["Bloodstream","Insect"],"range":["#ff0000","#0000ff"]}}}},
    {"width":121,"height":8,"data":{"values":[{"t":"p","s":1.0,"e":1.5},{"t":"b","s":2.1,"e":4.0},{"t":"p","s":14.0,"e":14.5},{"t":"e","s":14.6,"e":15.9},{"t":"e","s":17.7,"e":18.8},{"t":"e","s":21.4,"e":22.9},{"t":"e","s":24,"e":24.8},{"t":"e","s":27.1,"e":28.6},{"t":"e","s":28.6,"e":30.1},{"t":"r","s":38.4,"e":39.9}]},
     "encoding":{"x":{"field":"s","type":"quantitative","scale":{"domain":[0,40.3],"nice":false,"zero":false},"axis":{"domainColor":"#888888","ticks":false,"labels":false,"grid":false,"title":"BES 12","titleX":62,"titleY":4,"titleFontSize":9.5,"titleFontWeight":"normal","titleColor":"#000000","titleBaseline":"middle"}}},
     "layer":[
      {"transform":[{"filter":"datum.t=='e'"}],"mark":{"type":"rect","fill":"#ffffff","stroke":"#777777","strokeWidth":0.6},"encoding":{"x2":{"field":"e"},"y":{"datum":0,"type":"quantitative","scale":{"domain":[0,1]},"axis":null},"y2":{"datum":0.55}}},
      {"transform":[{"filter":"datum.t=='b'"}],"mark":{"type":"rect","fill":"#0000ff"},"encoding":{"x2":{"field":"e"},"y":{"datum":0,"type":"quantitative"},"y2":{"datum":0.6}}},
      {"transform":[{"filter":"datum.t=='r'"}],"mark":{"type":"rect","fill":"#ff0000"},"encoding":{"x2":{"field":"e"},"y":{"datum":0,"type":"quantitative"},"y2":{"datum":0.6}}},
      {"transform":[{"filter":"datum.t=='p'"}],"mark":{"type":"rule","color":"#333333","strokeWidth":0.7},"encoding":{"y":{"datum":0,"type":"quantitative"},"y2":{"datum":0.65}}},
      {"transform":[{"filter":"datum.t=='p'"}],"mark":{"type":"rule","color":"#333333","strokeWidth":0.7},"encoding":{"x2":{"field":"e"},"y":{"datum":0.65,"type":"quantitative"}}}
     ]}
   ]},
   {"bounds":"flush","spacing":4,"vconcat":[
    {"width":171,"height":26,"data":{"name":"b15r"},"mark":{"type":"line","strokeWidth":0.8},
     "encoding":{"x":{"field":"x","type":"quantitative","scale":{"domain":[0,57],"nice":false,"zero":false},"axis":{"domainColor":"#888888","ticks":false,"labels":false,"grid":false,"title":null}},
      "y":{"field":"y","type":"quantitative","scale":{"type":"log","domain":[0.05,100],"nice":false},"axis":{"values":[0.05,5],"labelExpr":"datum.value < 1 ? '0.05' : '5'","grid":false,"title":null,"tickSize":2,"tickColor":"#444444","domainColor":"#444444","labelFontSize":11,"labelPadding":1,"labelColor":"#000000"}},
      "color":{"datum":"Bloodstream","type":"nominal","scale":{"domain":["Bloodstream","Insect"],"range":["#ff0000","#0000ff"]}}}},
    {"width":171,"height":26,"data":{"name":"b15b"},"mark":{"type":"line","strokeWidth":0.8},
     "encoding":{"x":{"field":"x","type":"quantitative","scale":{"domain":[0,57],"nice":false,"zero":false},"axis":{"domainColor":"#888888","ticks":false,"labels":false,"grid":false,"title":null}},
      "y":{"field":"y","type":"quantitative","scale":{"type":"log","domain":[0.05,100],"nice":false},"axis":{"values":[0.05,5],"labelExpr":"datum.value < 1 ? '0.05' : '5'","grid":false,"title":null,"tickSize":2,"tickColor":"#444444","domainColor":"#444444","labelFontSize":11,"labelPadding":1,"labelColor":"#000000"}},
      "color":{"datum":"Insect","type":"nominal","scale":{"domain":["Bloodstream","Insect"],"range":["#ff0000","#0000ff"]}}}},
    {"width":171,"height":8,"data":{"values":[{"t":"p","s":1.0,"e":1.5},{"t":"b","s":2.1,"e":4.0},{"t":"p","s":14.0,"e":14.5},{"t":"e","s":14.8,"e":15.9},{"t":"e","s":17.4,"e":18.7},{"t":"e","s":21.8,"e":23.3},{"t":"e","s":24,"e":24.8},{"t":"e","s":27,"e":29},{"t":"e","s":29,"e":31},{"t":"e","s":31.4,"e":33.7},{"t":"e","s":34.6,"e":35.9},{"t":"e","s":37,"e":38.1},{"t":"e","s":40.3,"e":41.4},{"t":"e","s":41.4,"e":42.5},{"t":"e","s":42.5,"e":43.8},{"t":"e","s":48.3,"e":49.8},{"t":"e","s":53.5,"e":54.6},{"t":"r","s":55.6,"e":57}]},
     "encoding":{"x":{"field":"s","type":"quantitative","scale":{"domain":[0,57],"nice":false,"zero":false},"axis":{"domainColor":"#888888","ticks":false,"labels":false,"grid":false,"title":"BES 15","titleX":63,"titleY":4,"titleFontSize":9.5,"titleFontWeight":"normal","titleColor":"#000000","titleBaseline":"middle"}}},
     "layer":[
      {"transform":[{"filter":"datum.t=='e'"}],"mark":{"type":"rect","fill":"#ffffff","stroke":"#777777","strokeWidth":0.6},"encoding":{"x2":{"field":"e"},"y":{"datum":0,"type":"quantitative","scale":{"domain":[0,1]},"axis":null},"y2":{"datum":0.55}}},
      {"transform":[{"filter":"datum.t=='b'"}],"mark":{"type":"rect","fill":"#0000ff"},"encoding":{"x2":{"field":"e"},"y":{"datum":0,"type":"quantitative"},"y2":{"datum":0.6}}},
      {"transform":[{"filter":"datum.t=='r'"}],"mark":{"type":"rect","fill":"#ff0000"},"encoding":{"x2":{"field":"e"},"y":{"datum":0,"type":"quantitative"},"y2":{"datum":0.6}}},
      {"transform":[{"filter":"datum.t=='p'"}],"mark":{"type":"rule","color":"#333333","strokeWidth":0.7},"encoding":{"y":{"datum":0,"type":"quantitative"},"y2":{"datum":0.65}}},
      {"transform":[{"filter":"datum.t=='p'"}],"mark":{"type":"rule","color":"#333333","strokeWidth":0.7},"encoding":{"x2":{"field":"e"},"y":{"datum":0.65,"type":"quantitative"}}}
     ]}
   ]},
   {"bounds":"flush","spacing":4,"vconcat":[
    {"width":83,"height":26,"data":{"name":"b10r"},"mark":{"type":"line","strokeWidth":0.8},
     "encoding":{"x":{"field":"x","type":"quantitative","scale":{"domain":[0,27.7],"nice":false,"zero":false},"axis":{"domainColor":"#888888","ticks":false,"labels":false,"grid":false,"title":null}},
      "y":{"field":"y","type":"quantitative","scale":{"type":"log","domain":[0.05,100],"nice":false},"axis":{"values":[0.05,5],"labelExpr":"datum.value < 1 ? '0.05' : '5'","grid":false,"title":null,"tickSize":2,"tickColor":"#444444","domainColor":"#444444","labelFontSize":11,"labelPadding":1,"labelColor":"#000000"}},
      "color":{"datum":"Bloodstream","type":"nominal","scale":{"domain":["Bloodstream","Insect"],"range":["#ff0000","#0000ff"]}}}},
    {"width":83,"height":26,
     "layer":[
      {"data":{"name":"b10b"},"mark":{"type":"line","strokeWidth":0.8},
       "encoding":{"x":{"field":"x","type":"quantitative","scale":{"domain":[0,27.7],"nice":false,"zero":false},"axis":{"domainColor":"#888888","ticks":false,"labels":false,"grid":false,"title":null}},
        "y":{"field":"y","type":"quantitative","scale":{"type":"log","domain":[0.05,100],"nice":false},"axis":{"values":[0.05,5],"labelExpr":"datum.value < 1 ? '0.05' : '5'","grid":false,"title":null,"tickSize":2,"tickColor":"#444444","domainColor":"#444444","labelFontSize":11,"labelPadding":1,"labelColor":"#000000"}},
        "color":{"datum":"Insect","type":"nominal","scale":{"domain":["Bloodstream","Insect"],"range":["#ff0000","#0000ff"]}}}},
      {"data":{"values":[{"a":40.7,"b":50.7,"v":68}]},"mark":{"type":"rule","color":"#333333","strokeWidth":0.8},
       "encoding":{"x":{"field":"a","type":"quantitative","scale":{"domain":[0,27.7],"nice":false,"zero":false}},"x2":{"field":"b"},"y":{"field":"v","type":"quantitative"}}},
      {"data":{"values":[{"a":45.7,"v":8.3,"t":"10 kb"}]},"mark":{"type":"text","fontSize":9.5,"baseline":"middle","align":"center","color":"#000000"},
       "encoding":{"x":{"field":"a","type":"quantitative"},"y":{"field":"v","type":"quantitative"},"text":{"field":"t"}}}
     ]},
    {"width":83,"height":8,"data":{"values":[{"t":"p","s":0.7,"e":1.2},{"t":"b","s":1.8,"e":4.0},{"t":"p","s":13.7,"e":14.2},{"t":"e","s":14.3,"e":15.7},{"t":"e","s":17.3,"e":18.4},{"t":"e","s":21.2,"e":22.6},{"t":"e","s":22.6,"e":23.7},{"t":"r","s":24.3,"e":26.6}]},
     "encoding":{"x":{"field":"s","type":"quantitative","scale":{"domain":[0,27.7],"nice":false,"zero":false},"axis":{"domainColor":"#888888","ticks":false,"labels":false,"grid":false,"title":"BES 10","titleX":63.7,"titleY":4,"titleFontSize":9.5,"titleFontWeight":"normal","titleColor":"#000000","titleBaseline":"middle"}}},
     "layer":[
      {"transform":[{"filter":"datum.t=='e'"}],"mark":{"type":"rect","fill":"#ffffff","stroke":"#777777","strokeWidth":0.6},"encoding":{"x2":{"field":"e"},"y":{"datum":0,"type":"quantitative","scale":{"domain":[0,1]},"axis":null},"y2":{"datum":0.55}}},
      {"transform":[{"filter":"datum.t=='b'"}],"mark":{"type":"rect","fill":"#0000ff"},"encoding":{"x2":{"field":"e"},"y":{"datum":0,"type":"quantitative"},"y2":{"datum":0.6}}},
      {"transform":[{"filter":"datum.t=='r'"}],"mark":{"type":"rect","fill":"#ff0000"},"encoding":{"x2":{"field":"e"},"y":{"datum":0,"type":"quantitative"},"y2":{"datum":0.6}}},
      {"transform":[{"filter":"datum.t=='p'"}],"mark":{"type":"rule","color":"#333333","strokeWidth":0.7},"encoding":{"y":{"datum":0,"type":"quantitative"},"y2":{"datum":0.65}}},
      {"transform":[{"filter":"datum.t=='p'"}],"mark":{"type":"rule","color":"#333333","strokeWidth":0.7},"encoding":{"x2":{"field":"e"},"y":{"datum":0.65,"type":"quantitative"}}}
     ]}
   ]}
  ]}
 ]},
 {"spacing":-28.3,"vconcat":[
  {"width":1,"height":1,"data":{"values":[]},"mark":{"type":"point","opacity":0},"encoding":{}},
  {"width":200,"height":189.3,
   "view":{"fill":"#ebebeb","stroke":null},
   "resolve":{"axis":{"y":"independent"}},
   "layer":[
    {"data":{"name":"box"},"mark":{"type":"rule","color":"#444444","strokeWidth":0.7},
     "encoding":{"x":{"field":"gene","type":"nominal","scale":{"domain":["ESAG10","ESAG7","ESAG6","ESAG5","ESAG3ψ","ESAG4","ESAG8","ESAG3","ESAG2","ESAG11ψ","ESAG1","VSG"],"paddingInner":0,"paddingOuter":0.1},"axis":{"title":null,"labelAngle":-45,"labelFontSize":10,"labelColor":"#333333","labelPadding":1,"ticks":true,"tickSize":2.5,"tickColor":"#333333","domain":false,"grid":true,"gridColor":"#ffffff","gridWidth":1,"bandPosition":0.5}},
      "y":{"field":"lo","type":"quantitative","scale":{"type":"log","domain":[3.8e-7,35.7],"nice":false},"axis":{"orient":"left","values":[1,0.01,0.0001,0.000001],"labelExpr":"datum.value > 0.5 ? '1' : datum.value > 0.001 ? '10⁻²' : datum.value > 0.00001 ? '10⁻⁴' : '10⁻⁶'","grid":true,"gridColor":"#ffffff","gridWidth":1,"domain":false,"ticks":true,"tickSize":3,"tickColor":"#333333","labelFontSize":13,"labelColor":"#333333","labelPadding":2,"title":"Fold Change","titleFontSize":15,"titleFontWeight":"normal","titleColor":"#000000","titleX":-36.3,"titleY":99}},
      "y2":{"field":"hi"}}},
    {"data":{"name":"box"},"mark":{"type":"bar","size":13,"stroke":"#333333","strokeWidth":0.6},
     "encoding":{"x":{"field":"gene","type":"nominal"},
      "y":{"field":"q1","type":"quantitative","axis":{"orient":"left","values":[10,0.1,0.001,0.00001],"grid":true,"gridColor":"#ffffff","gridWidth":0.5,"labels":false,"ticks":false,"domain":false,"title":"b","titleX":-51.6,"titleY":-15,"titleAngle":0,"titleAlign":"left","titleBaseline":"alphabetic","titleFontSize":18,"titleFontWeight":"bold","titleColor":"#000000"}},
      "y2":{"field":"q3"},
      "fill":{"field":"gene","type":"nominal","scale":{"domain":["ESAG10","ESAG7","ESAG6","ESAG5","ESAG3ψ","ESAG4","ESAG8","ESAG3","ESAG2","ESAG11ψ","ESAG1","VSG"],"range":["#0000ff","#ffffff","#e3e3e3","#cccccc","#aaaaaa","#999999","#6e6e6e","#595959","#444444","#2e2e2e","#111111","#ff0000"]},"legend":null}}},
    {"data":{"name":"box"},"mark":{"type":"tick","size":13,"thickness":1.2,"color":"#333333"},
     "encoding":{"x":{"field":"gene","type":"nominal"},"y":{"field":"med","type":"quantitative","axis":null}}},
    {"data":{"name":"outl"},"mark":{"type":"point","filled":true,"size":6,"color":"#111111","opacity":1},
     "encoding":{"x":{"field":"gene","type":"nominal"},"y":{"field":"v","type":"quantitative","axis":null}}}
   ]}
 ]}
]},
{"spacing":156.6,"hconcat":[
 {"spacing":-24,"hconcat":[
  {"width":1,"height":1,"data":{"values":[]},"mark":{"type":"point","opacity":0},"encoding":{}},
  {"spacing":-13.7,"vconcat":[
   {"width":1,"height":1,"data":{"values":[]},"mark":{"type":"point","opacity":0},"encoding":{}},
   {"spacing":11,"vconcat":[
    {"spacing":11.7,"hconcat":[
     {"bounds":"flush","spacing":3,"vconcat":[
      {"width":65,"height":25,
       "data":{"name":"c1r"},"mark":{"type":"line","strokeWidth":0.8},
       "encoding":{"x":{"field":"x","type":"quantitative","scale":{"domain":[0,3.75],"nice":false,"zero":false},"axis":{"domainColor":"#888888","ticks":false,"labels":false,"grid":false,"title":"c","titleX":-30,"titleY":-63.7,"titleAngle":0,"titleAlign":"left","titleBaseline":"alphabetic","titleFontSize":18,"titleFontWeight":"bold","titleColor":"#000000"}},
        "y":{"field":"y","type":"quantitative","scale":{"type":"log","domain":[0.1,20],"nice":false},"axis":{"values":[0.1,10],"labelExpr":"datum.value < 1 ? '0.1' : '10'","grid":false,"tickSize":2,"tickColor":"#444444","domainColor":"#444444","labelFontSize":9,"labelPadding":1,"labelColor":"#000000","title":"RPM","titleFontSize":8,"titleFontWeight":"normal","titleColor":"#000000","titleX":-22,"titleY":22.5}},
        "color":{"datum":"Bloodstream","type":"nominal","scale":{"domain":["Bloodstream","Insect"],"range":["#ff0000","#0000ff"]}}}},
      {"width":65,"height":25,"data":{"name":"c1b"},"mark":{"type":"line","strokeWidth":0.8},
       "encoding":{"x":{"field":"x","type":"quantitative","scale":{"domain":[0,3.75],"nice":false,"zero":false},"axis":{"domainColor":"#888888","ticks":false,"labels":false,"grid":false,"title":null}},
        "y":{"field":"y","type":"quantitative","scale":{"type":"log","domain":[0.1,20],"nice":false},"axis":{"values":[0.1,10],"labelExpr":"datum.value < 1 ? '0.1' : '10'","grid":false,"title":null,"tickSize":2,"tickColor":"#444444","domainColor":"#444444","labelFontSize":9,"labelPadding":1,"labelColor":"#000000"}},
        "color":{"datum":"Insect","type":"nominal","scale":{"domain":["Bloodstream","Insect"],"range":["#ff0000","#0000ff"]}}}},
      {"width":65,"height":6,"data":{"values":[{"t":"p","s":0.39,"e":0.66},{"t":"r","s":1.98,"e":3.6}]},
       "encoding":{"x":{"field":"s","type":"quantitative","scale":{"domain":[0,3.75],"nice":false,"zero":false},"axis":{"domainColor":"#777777","ticks":false,"labels":false,"grid":false,"title":"mVSG 397","titleX":45,"titleFontSize":8.7,"titleFontWeight":"normal","titleColor":"#000000","titlePadding":2,"titleBaseline":"top"}}},
       "layer":[
        {"transform":[{"filter":"datum.t=='r'"}],"mark":{"type":"rect","fill":"#ff0000"},"encoding":{"x2":{"field":"e"},"y":{"datum":0,"type":"quantitative","scale":{"domain":[0,1]},"axis":null},"y2":{"datum":0.65}}},
        {"transform":[{"filter":"datum.t=='p'"}],"mark":{"type":"rule","color":"#222222","strokeWidth":0.8},"encoding":{"y":{"datum":0,"type":"quantitative"},"y2":{"datum":0.95}}},
        {"transform":[{"filter":"datum.t=='p'"}],"mark":{"type":"rule","color":"#222222","strokeWidth":0.8},"encoding":{"x2":{"field":"e"},"y":{"datum":0.95,"type":"quantitative"}}},
        {"transform":[{"filter":"datum.t=='p'"}],"mark":{"type":"point","shape":"triangle-right","filled":true,"size":8,"color":"#222222","opacity":1},"encoding":{"x":{"field":"e","type":"quantitative"},"y":{"datum":0.95,"type":"quantitative"}}}
       ]}
     ]},
     {"spacing":3.6,"hconcat":[
      {"bounds":"flush","spacing":3,"vconcat":[
       {"width":55,"height":25,"data":{"name":"c2r"},"mark":{"type":"line","strokeWidth":0.8},
        "encoding":{"x":{"field":"x","type":"quantitative","scale":{"domain":[0,3.17],"nice":false,"zero":false},"axis":{"domainColor":"#888888","ticks":false,"labels":false,"grid":false,"title":null}},
         "y":{"field":"y","type":"quantitative","scale":{"type":"log","domain":[0.1,20],"nice":false},"axis":{"values":[0.1,10],"labels":false,"grid":false,"title":null,"tickSize":2,"tickColor":"#444444","domainColor":"#444444"}},
         "color":{"datum":"Bloodstream","type":"nominal","scale":{"domain":["Bloodstream","Insect"],"range":["#ff0000","#0000ff"]}}}},
       {"width":55,"height":25,"data":{"name":"c2b"},"mark":{"type":"line","strokeWidth":0.8},
        "encoding":{"x":{"field":"x","type":"quantitative","scale":{"domain":[0,3.17],"nice":false,"zero":false},"axis":{"domainColor":"#888888","ticks":false,"labels":false,"grid":false,"title":null}},
         "y":{"field":"y","type":"quantitative","scale":{"type":"log","domain":[0.1,20],"nice":false},"axis":{"values":[0.1,10],"labels":false,"grid":false,"title":null,"tickSize":2,"tickColor":"#444444","domainColor":"#444444"}},
         "color":{"datum":"Insect","type":"nominal","scale":{"domain":["Bloodstream","Insect"],"range":["#ff0000","#0000ff"]}}}},
       {"width":55,"height":6,"data":{"values":[{"t":"p","s":0.54,"e":0.81},{"t":"r","s":1.54,"e":3.08}]},
        "encoding":{"x":{"field":"s","type":"quantitative","scale":{"domain":[0,3.17],"nice":false,"zero":false},"axis":{"domainColor":"#777777","ticks":false,"labels":false,"grid":false,"title":"mVSG 531","titleX":39,"titleFontSize":8.7,"titleFontWeight":"normal","titleColor":"#000000","titlePadding":2,"titleBaseline":"top"}}},
        "layer":[
         {"transform":[{"filter":"datum.t=='r'"}],"mark":{"type":"rect","fill":"#ff0000"},"encoding":{"x2":{"field":"e"},"y":{"datum":0,"type":"quantitative","scale":{"domain":[0,1]},"axis":null},"y2":{"datum":0.65}}},
         {"transform":[{"filter":"datum.t=='p'"}],"mark":{"type":"rule","color":"#222222","strokeWidth":0.8},"encoding":{"y":{"datum":0,"type":"quantitative"},"y2":{"datum":0.95}}},
         {"transform":[{"filter":"datum.t=='p'"}],"mark":{"type":"rule","color":"#222222","strokeWidth":0.8},"encoding":{"x2":{"field":"e"},"y":{"datum":0.95,"type":"quantitative"}}},
         {"transform":[{"filter":"datum.t=='p'"}],"mark":{"type":"point","shape":"triangle-right","filled":true,"size":8,"color":"#222222","opacity":1},"encoding":{"x":{"field":"e","type":"quantitative"},"y":{"datum":0.95,"type":"quantitative"}}}
        ]}
      ]},
      {"bounds":"flush","spacing":3,"vconcat":[
       {"width":68,"height":25,"data":{"name":"c3r"},"mark":{"type":"line","strokeWidth":0.8},
        "encoding":{"x":{"field":"x","type":"quantitative","scale":{"domain":[0,3.93],"nice":false,"zero":false},"axis":{"domainColor":"#888888","ticks":false,"labels":false,"grid":false,"title":null}},
         "y":{"field":"y","type":"quantitative","scale":{"type":"log","domain":[0.1,20],"nice":false},"axis":{"values":[0.1,10],"labels":false,"grid":false,"title":null,"tickSize":2,"tickColor":"#444444","domainColor":"#444444"}},
         "color":{"datum":"Bloodstream","type":"nominal","scale":{"domain":["Bloodstream","Insect"],"range":["#ff0000","#0000ff"]}}}},
       {"width":68,"height":25,"data":{"name":"c3b"},"mark":{"type":"line","strokeWidth":0.8},
        "encoding":{"x":{"field":"x","type":"quantitative","scale":{"domain":[0,3.93],"nice":false,"zero":false},"axis":{"domainColor":"#888888","ticks":false,"labels":false,"grid":false,"title":null}},
         "y":{"field":"y","type":"quantitative","scale":{"type":"log","domain":[0.1,20],"nice":false},"axis":{"values":[0.1,10],"labels":false,"grid":false,"title":null,"tickSize":2,"tickColor":"#444444","domainColor":"#444444"}},
         "color":{"datum":"Insect","type":"nominal","scale":{"domain":["Bloodstream","Insect"],"range":["#ff0000","#0000ff"]}}}},
       {"width":68,"height":6,"data":{"values":[{"t":"p","s":0.52,"e":0.79},{"t":"r","s":2.45,"e":3.9}]},
        "encoding":{"x":{"field":"s","type":"quantitative","scale":{"domain":[0,3.93],"nice":false,"zero":false},"axis":{"domainColor":"#777777","ticks":false,"labels":false,"grid":false,"title":"mVSG 653","titleX":54.7,"titleFontSize":8.7,"titleFontWeight":"normal","titleColor":"#000000","titlePadding":2,"titleBaseline":"top"}}},
        "layer":[
         {"transform":[{"filter":"datum.t=='r'"}],"mark":{"type":"rect","fill":"#ff0000"},"encoding":{"x2":{"field":"e"},"y":{"datum":0,"type":"quantitative","scale":{"domain":[0,1]},"axis":null},"y2":{"datum":0.65}}},
         {"transform":[{"filter":"datum.t=='p'"}],"mark":{"type":"rule","color":"#222222","strokeWidth":0.8},"encoding":{"y":{"datum":0,"type":"quantitative"},"y2":{"datum":0.95}}},
         {"transform":[{"filter":"datum.t=='p'"}],"mark":{"type":"rule","color":"#222222","strokeWidth":0.8},"encoding":{"x2":{"field":"e"},"y":{"datum":0.95,"type":"quantitative"}}},
         {"transform":[{"filter":"datum.t=='p'"}],"mark":{"type":"point","shape":"triangle-right","filled":true,"size":8,"color":"#222222","opacity":1},"encoding":{"x":{"field":"e","type":"quantitative"},"y":{"datum":0.95,"type":"quantitative"}}}
        ]}
      ]}
     ]}
    ]},
    {"spacing":-1,"hconcat":[
     {"bounds":"flush","spacing":3,"vconcat":[
      {"width":111,"height":25,"data":{"name":"c4r"},"mark":{"type":"line","strokeWidth":0.8},
       "encoding":{"x":{"field":"x","type":"quantitative","scale":{"domain":[0,6.42],"nice":false,"zero":false},"axis":{"domainColor":"#888888","ticks":false,"labels":false,"grid":false,"title":null}},
        "y":{"field":"y","type":"quantitative","scale":{"type":"log","domain":[0.1,20],"nice":false},"axis":{"values":[0.1,10],"labelExpr":"datum.value < 1 ? '0.1' : '10'","grid":false,"title":null,"tickSize":2,"tickColor":"#444444","domainColor":"#444444","labelFontSize":9,"labelPadding":1,"labelColor":"#000000"}},
        "color":{"datum":"Bloodstream","type":"nominal","scale":{"domain":["Bloodstream","Insect"],"range":["#ff0000","#0000ff"]}}}},
      {"width":111,"height":25,"data":{"name":"c4b"},"mark":{"type":"line","strokeWidth":0.8},
       "encoding":{"x":{"field":"x","type":"quantitative","scale":{"domain":[0,6.42],"nice":false,"zero":false},"axis":{"domainColor":"#888888","ticks":false,"labels":false,"grid":false,"title":null}},
        "y":{"field":"y","type":"quantitative","scale":{"type":"log","domain":[0.1,20],"nice":false},"axis":{"values":[0.1,10],"labelExpr":"datum.value < 1 ? '0.1' : '10'","grid":false,"title":null,"tickSize":2,"tickColor":"#444444","domainColor":"#444444","labelFontSize":9,"labelPadding":1,"labelColor":"#000000"}},
        "color":{"datum":"Insect","type":"nominal","scale":{"domain":["Bloodstream","Insect"],"range":["#ff0000","#0000ff"]}}}},
      {"width":111,"height":6,"data":{"values":[{"t":"p","s":0.44,"e":0.71},{"t":"r","s":4.34,"e":5.78}]},
       "encoding":{"x":{"field":"s","type":"quantitative","scale":{"domain":[0,6.42],"nice":false,"zero":false},"axis":{"domainColor":"#777777","ticks":false,"labels":false,"grid":false,"title":"mVSG 639","titleX":86.7,"titleFontSize":8.7,"titleFontWeight":"normal","titleColor":"#000000","titlePadding":2,"titleBaseline":"top"}}},
       "layer":[
        {"transform":[{"filter":"datum.t=='r'"}],"mark":{"type":"rect","fill":"#ff0000"},"encoding":{"x2":{"field":"e"},"y":{"datum":0,"type":"quantitative","scale":{"domain":[0,1]},"axis":null},"y2":{"datum":0.65}}},
        {"transform":[{"filter":"datum.t=='p'"}],"mark":{"type":"rule","color":"#222222","strokeWidth":0.8},"encoding":{"y":{"datum":0,"type":"quantitative"},"y2":{"datum":0.95}}},
        {"transform":[{"filter":"datum.t=='p'"}],"mark":{"type":"rule","color":"#222222","strokeWidth":0.8},"encoding":{"x2":{"field":"e"},"y":{"datum":0.95,"type":"quantitative"}}},
        {"transform":[{"filter":"datum.t=='p'"}],"mark":{"type":"point","shape":"triangle-right","filled":true,"size":8,"color":"#222222","opacity":1},"encoding":{"x":{"field":"e","type":"quantitative"},"y":{"datum":0.95,"type":"quantitative"}}}
       ]}
     ]},
     {"bounds":"flush","spacing":3,"vconcat":[
      {"width":56,"height":25,"data":{"name":"c5r"},"mark":{"type":"line","strokeWidth":0.8},
       "encoding":{"x":{"field":"x","type":"quantitative","scale":{"domain":[0,3.24],"nice":false,"zero":false},"axis":{"domainColor":"#888888","ticks":false,"labels":false,"grid":false,"title":null}},
        "y":{"field":"y","type":"quantitative","scale":{"type":"log","domain":[0.1,20],"nice":false},"axis":{"values":[0.1,10],"labels":false,"grid":false,"title":null,"tickSize":2,"tickColor":"#444444","domainColor":"#444444"}},
        "color":{"datum":"Bloodstream","type":"nominal","scale":{"domain":["Bloodstream","Insect"],"range":["#ff0000","#0000ff"]}}}},
      {"width":56,"height":25,
       "layer":[
        {"data":{"name":"c5b"},"mark":{"type":"line","strokeWidth":0.8},
         "encoding":{"x":{"field":"x","type":"quantitative","scale":{"domain":[0,3.24],"nice":false,"zero":false},"axis":{"domainColor":"#888888","ticks":false,"labels":false,"grid":false,"title":null}},
          "y":{"field":"y","type":"quantitative","scale":{"type":"log","domain":[0.1,20],"nice":false},"axis":{"values":[0.1,10],"labels":false,"grid":false,"title":null,"tickSize":2,"tickColor":"#444444","domainColor":"#444444"}},
          "color":{"datum":"Insect","type":"nominal","scale":{"domain":["Bloodstream","Insect"],"range":["#ff0000","#0000ff"]}}}},
        {"data":{"values":[{"a":6.18,"b":7.18,"v":2.4}]},"mark":{"type":"rule","color":"#333333","strokeWidth":0.8},
         "encoding":{"x":{"field":"a","type":"quantitative","scale":{"domain":[0,3.24],"nice":false,"zero":false}},"x2":{"field":"b"},"y":{"field":"v","type":"quantitative"}}},
        {"data":{"values":[{"a":6.68,"v":0.25,"t":"1 kb"}]},"mark":{"type":"text","fontSize":9,"baseline":"middle","align":"center","color":"#000000"},
         "encoding":{"x":{"field":"a","type":"quantitative"},"y":{"field":"v","type":"quantitative"},"text":{"field":"t"}}}
       ]},
      {"width":56,"height":6,"data":{"values":[{"t":"p","s":0.44,"e":0.71},{"t":"r","s":1.25,"e":2.89}]},
       "encoding":{"x":{"field":"s","type":"quantitative","scale":{"domain":[0,3.24],"nice":false,"zero":false},"axis":{"domainColor":"#777777","ticks":false,"labels":false,"grid":false,"title":"mVSG 1954","titleX":35,"titleFontSize":8.7,"titleFontWeight":"normal","titleColor":"#000000","titlePadding":2,"titleBaseline":"top"}}},
       "layer":[
        {"transform":[{"filter":"datum.t=='r'"}],"mark":{"type":"rect","fill":"#ff0000"},"encoding":{"x2":{"field":"e"},"y":{"datum":0,"type":"quantitative","scale":{"domain":[0,1]},"axis":null},"y2":{"datum":0.65}}},
        {"transform":[{"filter":"datum.t=='p'"}],"mark":{"type":"rule","color":"#222222","strokeWidth":0.8},"encoding":{"y":{"datum":0,"type":"quantitative"},"y2":{"datum":0.95}}},
        {"transform":[{"filter":"datum.t=='p'"}],"mark":{"type":"rule","color":"#222222","strokeWidth":0.8},"encoding":{"x2":{"field":"e"},"y":{"datum":0.95,"type":"quantitative"}}},
        {"transform":[{"filter":"datum.t=='p'"}],"mark":{"type":"point","shape":"triangle-right","filled":true,"size":8,"color":"#222222","opacity":1},"encoding":{"x":{"field":"e","type":"quantitative"},"y":{"datum":0.95,"type":"quantitative"}}}
       ]}
     ]}
    ]}
   ]}
  ]}
 ]},
 {"width":153,"height":190,
  "view":{"fill":"#ebebeb","stroke":null},
  "resolve":{"axis":{"y":"independent"}},
  "layer":[
   {"data":{"name":"boxd"},"mark":{"type":"rule","color":"#777777","strokeWidth":0.6},
    "encoding":{"x":{"field":"g","type":"nominal","scale":{"domain":["bVSG","mVSG"],"paddingInner":0,"paddingOuter":0.1},"axis":{"title":null,"labelAngle":0,"labelFontSize":15,"labelFontStyle":"italic","labelColor":"#222222","labelPadding":3,"ticks":true,"tickSize":3,"tickColor":"#333333","domain":false,"grid":true,"gridColor":"#ffffff","gridWidth":1,"bandPosition":0.5}},
     "y":{"field":"lo","type":"quantitative","scale":{"type":"log","domain":[4.1e-7,27.6],"nice":false},"axis":{"orient":"left","values":[1,0.01,0.0001,0.000001],"labelExpr":"datum.value > 0.5 ? '1' : datum.value > 0.001 ? '10⁻²' : datum.value > 0.00001 ? '10⁻⁴' : '10⁻⁶'","grid":true,"gridColor":"#ffffff","gridWidth":1,"domain":false,"ticks":true,"tickSize":3,"tickColor":"#333333","labelFontSize":12.5,"labelColor":"#333333","labelPadding":3,"title":"Fold Change","titleFontSize":15,"titleFontWeight":"normal","titleColor":"#000000","titleX":-45,"titleY":101.6}},
     "y2":{"field":"hi"}}},
   {"data":{"name":"boxd"},"mark":{"type":"bar","size":52,"stroke":"#888888","strokeWidth":0.6},
    "encoding":{"x":{"field":"g","type":"nominal"},
     "y":{"field":"q1","type":"quantitative","axis":{"orient":"left","values":[10,0.1,0.001,0.00001],"grid":true,"gridColor":"#ffffff","gridWidth":0.5,"labels":false,"ticks":false,"domain":false,"title":"d","titleX":-61.6,"titleY":4,"titleAngle":0,"titleAlign":"left","titleBaseline":"alphabetic","titleFontSize":18,"titleFontWeight":"bold","titleColor":"#000000"}},
     "y2":{"field":"q3"},
     "fill":{"field":"g","type":"nominal","scale":{"domain":["bVSG","mVSG"],"range":["#ff0000","#0000ff"]},"legend":null}}},
   {"data":{"name":"boxd"},"mark":{"type":"tick","size":52,"thickness":1,"color":"#333333"},
    "encoding":{"x":{"field":"g","type":"nominal"},"y":{"field":"med","type":"quantitative","axis":null}}},
   {"data":{"name":"outd"},"mark":{"type":"point","filled":true,"size":4,"color":"#444444","opacity":1},
    "encoding":{"x":{"field":"g","type":"nominal"},"y":{"field":"v","type":"quantitative","axis":null}}}
  ]}
]}
]
}
